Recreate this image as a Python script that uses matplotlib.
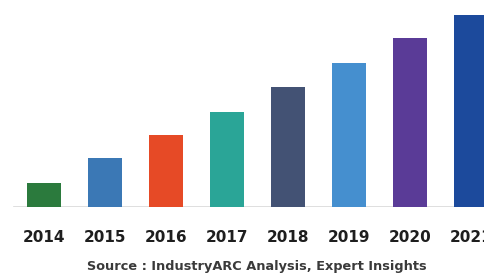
import matplotlib.pyplot as plt

years = ["2014", "2015", "2016", "2017", "2018", "2019", "2020", "2021"]
values = [24, 49, 72, 95, 120, 144, 169, 192]
colors = ["#2b7a3d", "#3b78b5", "#e64a26", "#2aa597", "#435274",
          "#458fcf", "#5a3b97", "#1c4a9c"]

fig = plt.figure(figsize=(4.85, 2.79), dpi=100)
ax = fig.add_axes([0, 72 / 279, 1, 207 / 279])

x = list(range(len(years)))
ax.bar(x, values, width=0.57, color=colors, zorder=2)
ax.axhline(0, xmin=14 / 485, xmax=1, color="#d9d9d9", lw=1.2, zorder=1)

ax.set_xlim(-44 / 61, 441 / 61)
ax.set_ylim(0, 207)
ax.set_xticks(x)
ax.set_xticklabels(years, fontsize=11, fontweight="bold", color="#1e1e1e")
ax.tick_params(axis="x", length=0, pad=16.5)
ax.set_yticks([])
for s in ax.spines.values():
    s.set_visible(False)

fig.text(0.53, 0.022, "Source : IndustryARC Analysis, Expert Insights",
         ha="center", va="bottom", fontsize=9.3, fontweight="bold", color="#3a3a3a")

fig.savefig("out.png", dpi=100)
